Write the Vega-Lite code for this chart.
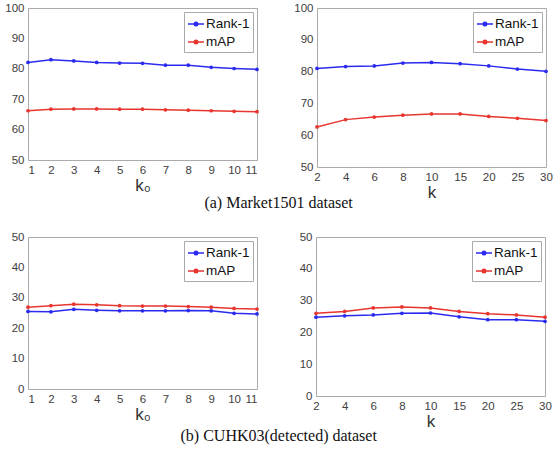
{
  "$schema": "https://vega.github.io/schema/vega-lite/v6.json",
  "padding": {"left": 4, "top": 1, "right": 2, "bottom": 2},
  "background": "white",
  "config": {
    "view": {"stroke": "#aaaaaa", "strokeWidth": 1},
    "font": "Liberation Sans",
    "axis": {"labelFont": "Liberation Sans", "labelFontSize": 11.5, "labelColor": "#404040", "titleFont": "Liberation Sans", "titleFontWeight": "normal", "titleFontSize": 17, "titleColor": "#333333", "grid": false, "domain": false, "ticks": false, "labelPadding": 4},
    "axisY": {"minExtent": 22, "maxExtent": 22, "titlePadding": 0},
    "axisX": {"titlePadding": 2},
    "legend": {"orient": "top-right", "offset": 4, "title": null, "labelFont": "Liberation Sans", "labelFontSize": 13.5, "labelColor": "#111111", "strokeColor": "#aaaaaa", "fillColor": "white", "padding": 3, "rowPadding": 2, "symbolSize": 256, "symbolStrokeWidth": 1.5, "symbolType": "M-1,0H1M-0.22,0A0.22,0.22,0,1,1,0.22,0A0.22,0.22,0,1,1,-0.22,0Z", "labelOffset": 1},
    "title": {"font": "Liberation Serif", "fontSize": 16, "fontWeight": "normal", "color": "#111111"},
    "concat": {"spacing": 19}
  },
  "vconcat": [
    {
      "title": {"text": "(a) Market1501 dataset", "orient": "bottom", "anchor": "middle", "offset": -6},
      "spacing": 32,
      "resolve": {"legend": {"color": "independent"}, "scale": {"color": "independent"}},
      "hconcat": [
        {
          "width": 229, "height": 152,
          "data": {"values": [
            {"k": 1, "metric": "Rank-1", "value": 82.1}, {"k": 2, "metric": "Rank-1", "value": 83.0}, {"k": 3, "metric": "Rank-1", "value": 82.6}, {"k": 4, "metric": "Rank-1", "value": 82.1}, {"k": 5, "metric": "Rank-1", "value": 81.9}, {"k": 6, "metric": "Rank-1", "value": 81.8}, {"k": 7, "metric": "Rank-1", "value": 81.2}, {"k": 8, "metric": "Rank-1", "value": 81.2}, {"k": 9, "metric": "Rank-1", "value": 80.5}, {"k": 10, "metric": "Rank-1", "value": 80.1}, {"k": 11, "metric": "Rank-1", "value": 79.8},
            {"k": 1, "metric": "mAP", "value": 66.2}, {"k": 2, "metric": "mAP", "value": 66.7}, {"k": 3, "metric": "mAP", "value": 66.8}, {"k": 4, "metric": "mAP", "value": 66.8}, {"k": 5, "metric": "mAP", "value": 66.7}, {"k": 6, "metric": "mAP", "value": 66.7}, {"k": 7, "metric": "mAP", "value": 66.5}, {"k": 8, "metric": "mAP", "value": 66.4}, {"k": 9, "metric": "mAP", "value": 66.2}, {"k": 10, "metric": "mAP", "value": 66.0}, {"k": 11, "metric": "mAP", "value": 65.9}
          ]},
          "encoding": {
            "x": {"field": "k", "type": "quantitative", "scale": {"domain": [1, 11], "nice": false, "zero": false}, "axis": {"values": [1,2,3,4,5,6,7,8,9,10,11], "title": "k₀"}},
            "y": {"field": "value", "type": "quantitative", "scale": {"domain": [50, 100], "nice": false}, "axis": {"values": [50,60,70,80,90,100], "title": null}},
            "color": {"field": "metric", "type": "nominal", "scale": {"domain": ["Rank-1", "mAP"], "range": ["#2b2bef", "#e8352f"]}}
          },
          "layer": [
            {"mark": {"type": "line", "strokeWidth": 1.5}},
            {"mark": {"type": "point", "filled": true, "size": 14, "opacity": 1}}
          ]
        },
        {
          "width": 229, "height": 159,
          "data": {"values": [
            {"k": 2, "metric": "Rank-1", "value": 81.0}, {"k": 4, "metric": "Rank-1", "value": 81.6}, {"k": 6, "metric": "Rank-1", "value": 81.8}, {"k": 8, "metric": "Rank-1", "value": 82.7}, {"k": 10, "metric": "Rank-1", "value": 82.9}, {"k": 15, "metric": "Rank-1", "value": 82.5}, {"k": 20, "metric": "Rank-1", "value": 81.8}, {"k": 25, "metric": "Rank-1", "value": 80.8}, {"k": 30, "metric": "Rank-1", "value": 80.1},
            {"k": 2, "metric": "mAP", "value": 62.6}, {"k": 4, "metric": "mAP", "value": 64.9}, {"k": 6, "metric": "mAP", "value": 65.7}, {"k": 8, "metric": "mAP", "value": 66.3}, {"k": 10, "metric": "mAP", "value": 66.7}, {"k": 15, "metric": "mAP", "value": 66.7}, {"k": 20, "metric": "mAP", "value": 65.9}, {"k": 25, "metric": "mAP", "value": 65.3}, {"k": 30, "metric": "mAP", "value": 64.6}
          ]},
          "encoding": {
            "x": {"field": "k", "type": "ordinal", "sort": "ascending", "scale": {"type": "point", "padding": 0}, "axis": {"title": "k", "labelAngle": 0}},
            "y": {"field": "value", "type": "quantitative", "scale": {"domain": [50, 100], "nice": false}, "axis": {"values": [50,60,70,80,90,100], "title": null}},
            "color": {"field": "metric", "type": "nominal", "scale": {"domain": ["Rank-1", "mAP"], "range": ["#2b2bef", "#e8352f"]}}
          },
          "layer": [
            {"mark": {"type": "line", "strokeWidth": 1.5}},
            {"mark": {"type": "point", "filled": true, "size": 14, "opacity": 1}}
          ]
        }
      ]
    },
    {
      "title": {"text": "(b) CUHK03(detected) dataset", "orient": "bottom", "anchor": "middle", "offset": -2},
      "spacing": 32,
      "resolve": {"legend": {"color": "independent"}, "scale": {"color": "independent"}},
      "hconcat": [
        {
          "width": 229, "height": 152,
          "data": {"values": [
            {"k": 1, "metric": "Rank-1", "value": 25.5}, {"k": 2, "metric": "Rank-1", "value": 25.4}, {"k": 3, "metric": "Rank-1", "value": 26.2}, {"k": 4, "metric": "Rank-1", "value": 25.9}, {"k": 5, "metric": "Rank-1", "value": 25.7}, {"k": 6, "metric": "Rank-1", "value": 25.7}, {"k": 7, "metric": "Rank-1", "value": 25.7}, {"k": 8, "metric": "Rank-1", "value": 25.8}, {"k": 9, "metric": "Rank-1", "value": 25.7}, {"k": 10, "metric": "Rank-1", "value": 24.9}, {"k": 11, "metric": "Rank-1", "value": 24.7},
            {"k": 1, "metric": "mAP", "value": 26.9}, {"k": 2, "metric": "mAP", "value": 27.4}, {"k": 3, "metric": "mAP", "value": 27.9}, {"k": 4, "metric": "mAP", "value": 27.7}, {"k": 5, "metric": "mAP", "value": 27.4}, {"k": 6, "metric": "mAP", "value": 27.3}, {"k": 7, "metric": "mAP", "value": 27.3}, {"k": 8, "metric": "mAP", "value": 27.1}, {"k": 9, "metric": "mAP", "value": 26.9}, {"k": 10, "metric": "mAP", "value": 26.5}, {"k": 11, "metric": "mAP", "value": 26.3}
          ]},
          "encoding": {
            "x": {"field": "k", "type": "quantitative", "scale": {"domain": [1, 11], "nice": false, "zero": false}, "axis": {"values": [1,2,3,4,5,6,7,8,9,10,11], "title": "k₀"}},
            "y": {"field": "value", "type": "quantitative", "scale": {"domain": [0, 50], "nice": false}, "axis": {"values": [0,10,20,30,40,50], "title": null}},
            "color": {"field": "metric", "type": "nominal", "scale": {"domain": ["Rank-1", "mAP"], "range": ["#2b2bef", "#e8352f"]}}
          },
          "layer": [
            {"mark": {"type": "line", "strokeWidth": 1.5}},
            {"mark": {"type": "point", "filled": true, "size": 14, "opacity": 1}}
          ]
        },
        {
          "width": 229, "height": 159,
          "data": {"values": [
            {"k": 2, "metric": "Rank-1", "value": 24.8}, {"k": 4, "metric": "Rank-1", "value": 25.2}, {"k": 6, "metric": "Rank-1", "value": 25.5}, {"k": 8, "metric": "Rank-1", "value": 26.0}, {"k": 10, "metric": "Rank-1", "value": 26.1}, {"k": 15, "metric": "Rank-1", "value": 24.9}, {"k": 20, "metric": "Rank-1", "value": 24.0}, {"k": 25, "metric": "Rank-1", "value": 24.0}, {"k": 30, "metric": "Rank-1", "value": 23.5},
            {"k": 2, "metric": "mAP", "value": 26.0}, {"k": 4, "metric": "mAP", "value": 26.6}, {"k": 6, "metric": "mAP", "value": 27.7}, {"k": 8, "metric": "mAP", "value": 28.0}, {"k": 10, "metric": "mAP", "value": 27.7}, {"k": 15, "metric": "mAP", "value": 26.6}, {"k": 20, "metric": "mAP", "value": 25.9}, {"k": 25, "metric": "mAP", "value": 25.5}, {"k": 30, "metric": "mAP", "value": 24.8}
          ]},
          "encoding": {
            "x": {"field": "k", "type": "ordinal", "sort": "ascending", "scale": {"type": "point", "padding": 0}, "axis": {"title": "k", "labelAngle": 0}},
            "y": {"field": "value", "type": "quantitative", "scale": {"domain": [0, 50], "nice": false}, "axis": {"values": [0,10,20,30,40,50], "title": null}},
            "color": {"field": "metric", "type": "nominal", "scale": {"domain": ["Rank-1", "mAP"], "range": ["#2b2bef", "#e8352f"]}}
          },
          "layer": [
            {"mark": {"type": "line", "strokeWidth": 1.5}},
            {"mark": {"type": "point", "filled": true, "size": 14, "opacity": 1}}
          ]
        }
      ]
    }
  ]
}
